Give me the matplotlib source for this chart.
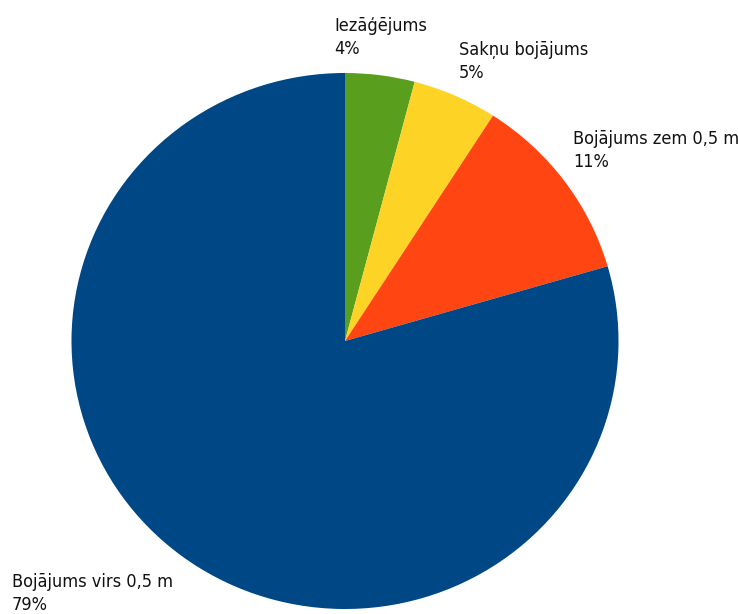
import matplotlib
matplotlib.use("Agg")
import matplotlib.pyplot as plt
from matplotlib import font_manager

# Damage type shares (percent)
categories = ["Iezāģējums", "Sakņu bojājums", "Bojājums zem 0,5 m", "Bojājums virs 0,5 m"]
shares = [4.1, 5.0, 11.4, 79.5]
share_labels = ["4%", "5%", "11%", "79%"]

colors = ["#5a9e1e", "#fdd325", "#ff4612", "#004785"]

# Pick a condensed face if one is installed
font_file = None
for f in font_manager.fontManager.ttflist:
    low = f.fname.lower()
    if ("narrow" in low or "condensed" in low) and "bold" not in low and "oblique" not in low and "italic" not in low:
        if font_file is None or "liberation" in low:
            font_file = f.fname
if font_file:
    fprop = font_manager.FontProperties(fname=font_file, size=13)
else:
    fprop = font_manager.FontProperties(family="DejaVu Sans", size=12)

W, H = 738, 614
# pie centre and radii in pixels (slightly wider than tall)
cx, cy, rx, ry = 345, 341, 273.5, 268

fig = plt.figure(figsize=(W / 100, H / 100), dpi=100)
ax = fig.add_axes([0, 0, 1, 1])

ax.pie(shares, colors=colors, startangle=90, counterclock=False,
       radius=1, frame=True, wedgeprops=dict(linewidth=0))
ax.set_aspect("auto")
ax.set_xlim(-cx / rx, (W - cx) / rx)
ax.set_ylim(-(H - cy) / ry, cy / ry)
ax.axis("off")

# Label anchor points (left, top) in pixels from the top-left corner
label_pos = [(334, 17), (459, 41), (573, 130), (12, 573)]
for (x, y), name, pct in zip(label_pos, categories, share_labels):
    fig.text(x / W, 1 - y / H, f"{name}\n{pct}", ha="left", va="top",
             fontproperties=fprop, color="#111111", linespacing=1.38)

fig.savefig("out.png", dpi=100)
